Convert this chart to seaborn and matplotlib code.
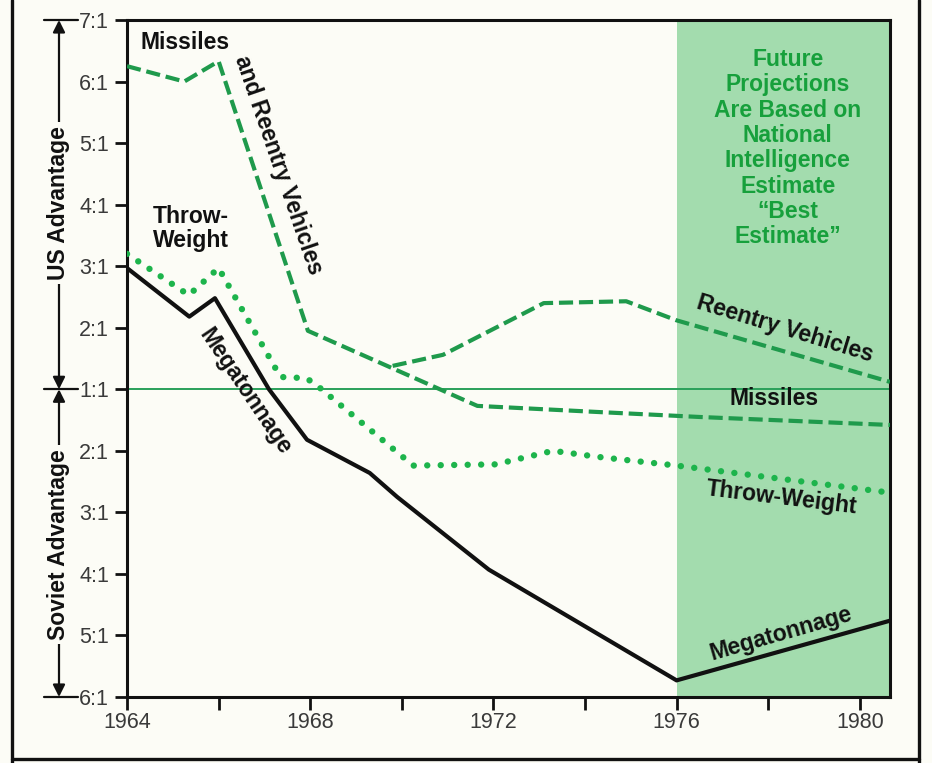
import numpy as np
import pandas as pd
import matplotlib.pyplot as plt
import seaborn as sns
from matplotlib.lines import Line2D

sns.set_style("white")
plt.rcParams['font.family'] = ['Liberation Sans', 'DejaVu Sans']

# ratio scale: 1:1 -> 0, US n:1 -> n-1, Soviet n:1 -> -(n-1)
missile_years = [1964, 1965.25, 1966, 1967.95, 1971.65, 1974.3, 1976.5, 1980.66]
missile_vals = [5.25, 5.0, 5.33, 0.95, -0.27, -0.37, -0.45, -0.58]

reentry_years = [1969.8, 1970.9, 1973.1, 1974.9, 1976.0, 1980.66]
reentry_vals = [0.38, 0.56, 1.40, 1.43, 1.12, 0.12]

throw_years = [1964, 1965.35, 1966, 1967.35, 1967.92, 1968.2, 1970.25,
               1972.05, 1973.3, 1974.3, 1976.0, 1980.66]
throw_vals = [2.2, 1.53, 1.97, 0.2, 0.18, 0.03, -1.24, -1.22, -1.0, -1.1, -1.24, -1.68]

mega_years = [1964, 1965.36, 1965.92, 1967.1, 1967.93, 1969.3, 1969.9, 1971.9, 1976.0, 1980.66]
mega_vals = [1.97, 1.18, 1.48, 0.0, -0.82, -1.36, -1.75, -2.93, -4.73, -3.76]

ratio_ticks = list(range(6, -6, -1))
ratio_labels = ["7:1", "6:1", "5:1", "4:1", "3:1", "2:1", "1:1",
                "2:1", "3:1", "4:1", "5:1", "6:1"]
year_labels = [1964, 1968, 1972, 1976, 1980]
minor_years = [1966, 1970, 1974, 1978]
projection_start = 1976
x_end = 1980.66

bg = '#fcfcf6'
dash_green = '#1f9a4c'
dot_green = '#1db44c'
shade = '#a3dcae'
text_green = '#17a03c'
ink = '#111111'

fig = plt.figure(figsize=(9.32, 7.63), dpi=100, facecolor=bg)
ax = fig.add_axes([127 / 932, 66 / 763, 763 / 932, 677 / 763])
ax.set_facecolor(bg)

ax.axvspan(projection_start, x_end, color=shade, lw=0, zorder=0)
ax.axhline(0, color='#2aa05a', lw=1.4, zorder=1)

sns.lineplot(x=missile_years, y=missile_vals, ax=ax, color=dash_green, lw=3.0,
             linestyle=(0, (3.4, 1.4)), errorbar=None, zorder=3)
sns.lineplot(x=reentry_years, y=reentry_vals, ax=ax, color=dash_green, lw=3.0,
             linestyle=(0, (3.4, 1.4)), errorbar=None, zorder=3)
sns.lineplot(x=throw_years, y=throw_vals, ax=ax, color=dot_green, lw=4.6,
             linestyle=(0, (0.01, 2.1)), dash_capstyle='round', errorbar=None, zorder=3)
sns.lineplot(x=mega_years, y=mega_vals, ax=ax, color=ink, lw=3.0,
             errorbar=None, zorder=4)

ax.set_xlim(1964, x_end)
ax.set_ylim(-5, 6)
ax.set_yticks(ratio_ticks)
ax.set_yticklabels(ratio_labels)
ax.set_xticks(year_labels)
ax.set_xticks(minor_years, minor=True)
ax.set_xlabel('')
ax.set_ylabel('')
ax.tick_params(axis='both', which='both', direction='out', length=9, width=2,
               color=ink, labelsize=15.5, labelcolor='#3a3a3a', pad=4,
               left=True, bottom=True)
ax.tick_params(axis='x', pad=2)
for s in ax.spines.values():
    s.set_visible(True)
    s.set_color(ink)
    s.set_linewidth(2.2)

bold = dict(fontsize=16.5, fontweight='bold', color=ink, ha='center', va='center',
            rotation_mode='anchor')
ax.text(1965.27, 5.63, 'Missiles', **bold)
ax.text(1967.30, 3.64, 'and Reentry Vehicles', rotation=-71, **bold)
ax.text(1965.40, 2.61, 'Throw-\nWeight', linespacing=1.05, **bold)
ax.text(1966.58, -0.03, 'Megatonnage', rotation=-56, **bold)
ax.text(1978.37, 0.98, 'Reentry Vehicles', rotation=-17, **bold)
ax.text(1978.13, -0.15, 'Missiles', **bold)
ax.text(1978.30, -1.76, 'Throw-Weight', rotation=-7, **bold)
ax.text(1978.28, -3.97, 'Megatonnage', rotation=16, **bold)
ax.text(1978.43, 3.92,
        'Future\nProjections\nAre Based on\nNational\nIntelligence\nEstimate\n\u201cBest\nEstimate\u201d',
        fontsize=16.5, fontweight='bold', color=text_green, ha='center', va='center',
        linespacing=1.13)

# advantage brackets at the left
tr = ax.get_yaxis_transform()
xa = (59 - 127) / 763
for y0, y1, label, ymid in [(6, 0, 'US Advantage', 3.03), (0, -5, 'Soviet Advantage', -2.52)]:
    ax.annotate('', xy=(xa, y0), xytext=(xa, ymid), xycoords=tr, textcoords=tr,
                arrowprops=dict(arrowstyle='-|>', color=ink, lw=1.6,
                                mutation_scale=18, shrinkA=0, shrinkB=0))
    ax.annotate('', xy=(xa, y1), xytext=(xa, ymid), xycoords=tr, textcoords=tr,
                arrowprops=dict(arrowstyle='-|>', color=ink, lw=1.6,
                                mutation_scale=18, shrinkA=0, shrinkB=0))
    ax.text(xa, ymid, label, transform=tr, rotation=90, ha='center', va='center',
            fontsize=16.5, fontweight='bold', color=ink,
            bbox=dict(facecolor=bg, edgecolor='none', pad=3), clip_on=False)
for yc in [6, 0, -5]:
    ax.add_line(Line2D([(44 - 127) / 763, (78 - 127) / 763], [yc, yc], transform=tr,
                       color=ink, lw=1.6, clip_on=False))

# outer frame of the panel
for xs, ys in [([12 / 932, 12 / 932], [0, 1]), ([919 / 932, 919 / 932], [0, 1]),
               ([12 / 932, 919 / 932], [4 / 763, 4 / 763])]:
    fig.add_artist(Line2D(xs, ys, transform=fig.transFigure, color=ink, lw=2.4))

fig.savefig('out.png', dpi=100, facecolor=bg)
